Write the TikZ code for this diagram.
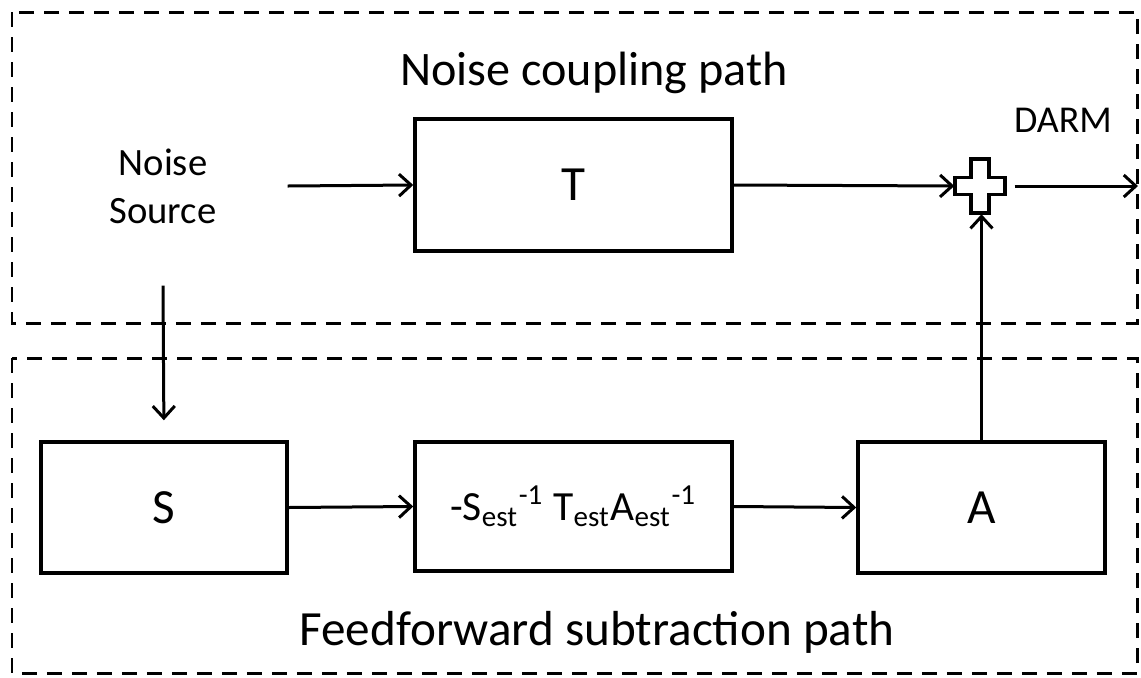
\documentclass[tikz,border=0pt]{standalone}
\usepackage{fontspec}
\setmainfont{Carlito}
\usetikzlibrary{arrows.meta}
\tikzset{
	block/.style={draw, line width=0.35mm, minimum height=13.1mm, font=\fontsize{14}{16}\selectfont},
	group/.style={draw, line width=0.3mm, dash pattern=on 1.5mm off 1mm},
	flow/.style={-{Straight Barb[length=1.2mm, width=2.2mm]}, line width=0.3mm}
}
\begin{document}
\begin{tikzpicture}[x=0.1mm, y=-0.1mm]
		\useasboundingbox (0,0) rectangle (1141,677);
		%draw group frames
		\draw [group] (12,12) rectangle (1137,323);
		\draw [group] (12,358) rectangle (1137,673);
		\node[anchor=base, font=\fontsize{13.7}{16}\selectfont] (coupling) at (594,85) {Noise coupling path};
		\node[anchor=base, font=\fontsize{14}{16}\selectfont] (feedforward) at (597,645) {Feedforward subtraction path};
		%draw blocks
		\node[align=center, minimum width=24.8mm, minimum height=19.8mm, font=\fontsize{11}{13.7}\selectfont] (source) at (163,186) {Noise\\Source};
		\node[block, minimum width=31.7mm, minimum height=13.2mm] (T) at (573.5,185) {T};
		\node[block, minimum width=24.6mm] (S) at (164,507.5) {S};
		\node[block, minimum width=31.7mm, minimum height=12.9mm, font=\fontsize{11.8}{13}\selectfont] (filter) at (573.5,506.5)
			{-S\textsubscript{est}\textsuperscript{-1} T\textsubscript{est}A\textsubscript{est}\textsuperscript{-1}};
		\node[block, minimum width=24.7mm] (A) at (981.5,507.5) {A};
		%draw summing junction
		\node[inner sep=0, minimum width=5mm, minimum height=5.5mm] (sum) at (980,186) {};
		\draw[line width=0.35mm, fill=white] (sum.center) ++(-25,-8.5) -- ++(16,0) -- ++(0,-18.5) -- ++(18,0) -- ++(0,18.5)
			-- ++(16,0) -- ++(0,17) -- ++(-16,0) -- ++(0,18.5) -- ++(-18,0) -- ++(0,-18.5) -- ++(-16,0) -- cycle;
		\node[font=\fontsize{10.8}{12}\selectfont] (darmlabel) at (1063,120) {DARM};
		\coordinate (darm) at (1138,186);
		%draw arrows
		\draw[flow] (source.east) -- (T.west);
		\draw[flow] (T.east) -- (sum.west);
		\draw[flow, shorten <=0.9mm] (sum.east) -- (darm);
		\draw[flow, shorten >=2mm] (source.south) -- (S.north);
		\draw[flow] (S.east) -- (filter.west);
		\draw[flow] (filter.east) -- (A.west);
		\draw[flow] (A.north) -- (A.north |- sum.south);
\end{tikzpicture}
\end{document}
